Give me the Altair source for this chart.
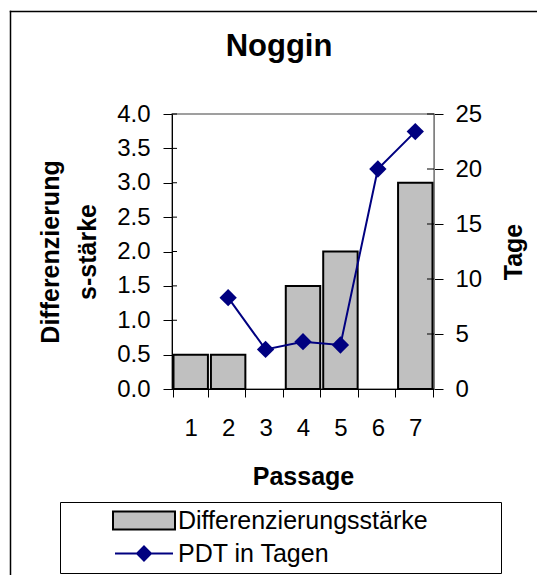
import altair as alt
import pandas as pd

# ---- data ----
passage = [1, 2, 3, 4, 5, 6, 7]
diff_strength = [0.5, 0.5, 0.0, 1.5, 2.0, 0.0, 3.0]
pdt_passage = [2, 3, 4, 5, 6, 7]
pdt_days = [8.3, 3.6, 4.3, 4.0, 20.0, 23.4]

left_ticks = [0, 0.5, 1, 1.5, 2, 2.5, 3, 3.5, 4]
right_ticks = [0, 5, 10, 15, 20, 25]

series_bar = "Differenzierungsstärke"
series_line = "PDT in Tagen"

FONT = "Liberation Sans"
NAVY = "#000080"
GRAY = "#C0C0C0"

bar_df = pd.DataFrame({"p": passage, "v": diff_strength, "series": series_bar})
line_df = pd.DataFrame({"p": pdt_passage, "t": pdt_days})
left_tick_df = pd.DataFrame({"lv": left_ticks})
right_tick_df = pd.DataFrame({"rv": right_ticks})
frame_df = pd.DataFrame({"k": [0]})

x_scale = alt.Scale(domain=passage, paddingInner=0.08, paddingOuter=0.04)
left_scale = alt.Scale(domain=[0, 4], nice=False)
right_scale = alt.Scale(domain=[0, 25], nice=False)

bar_path = "M-3.1,-0.9H3.1V0.9H-3.1ZM34.7,0"
line_path = "M-2.9,0H2.9M0,-0.7L0.7,0L0,0.7L-0.7,0ZM34.7,0"
is_line = f"datum.value === '{series_line}'"

legend = alt.Legend(
    orient="none", legendX=-112, legendY=388, title=None, direction="vertical",
    fillColor="white", strokeColor="black", padding=6,
    symbolSize=400, symbolStrokeWidth=2, symbolOffset=65.5, labelOffset=21.5,
    labelFont=FONT, labelFontSize=25, labelColor="black", labelLimit=400,
    rowPadding=7,
    symbolType=alt.ExprRef(expr=f"{is_line} ? '{line_path}' : '{bar_path}'"),
    symbolStrokeColor=alt.ExprRef(expr=f"{is_line} ? '{NAVY}' : 'black'"),
)

# outer chart frame (left and top edges; the others run past the picture)
frame_left = alt.Chart(frame_df).mark_rule(stroke="black", strokeWidth=1.5).encode(
    x=alt.value(-161.5), y=alt.value(-103.25), y2=alt.value(480)
)
frame_top = alt.Chart(frame_df).mark_rule(stroke="black", strokeWidth=1.5).encode(
    x=alt.value(-162.25), x2=alt.value(480), y=alt.value(-102.5)
)

bars = alt.Chart(bar_df).transform_filter("datum.v > 0").mark_bar(
    stroke="black", strokeWidth=2
).encode(
    x=alt.X("p:O", scale=x_scale, sort=passage,
            axis=alt.Axis(title="Passage", labelAngle=0, tickBand="extent", tickSize=8,
                          labelPadding=19, titlePadding=24, labelFontSize=24,
                          titleFontSize=25, titleFontWeight="bold")),
    y=alt.Y("v:Q", scale=left_scale,
            axis=alt.Axis(orient="left", values=left_ticks, format=".1f",
                          title=["Differenzierung", "s-stärke"], titleLineHeight=37,
                          tickSize=9, labelPadding=13, titlePadding=16,
                          labelFontSize=24, titleFontSize=25, titleFontWeight="bold")),
    fill=alt.Fill("series:N", scale=alt.Scale(domain=[series_bar, series_line],
                                              range=[GRAY, NAVY]), legend=legend),
)

line = alt.Chart(line_df).mark_line(
    color=NAVY, strokeWidth=2,
    point=alt.OverlayMarkDef(shape="diamond", size=300, filled=True, color=NAVY),
).encode(
    x=alt.X("p:O", scale=x_scale, sort=passage),
    y=alt.Y("t:Q", scale=right_scale,
            axis=alt.Axis(orient="right", values=right_ticks, format="d", title="Tage",
                          titleAngle=270, titleBaseline="top", tickSize=9, labelPadding=12,
                          titlePadding=20, labelFontSize=24, titleFontSize=25,
                          titleFontWeight="bold", domainColor="#808080")),
)

# inner halves of the tick marks (Excel ticks cross the axis line)
left_stubs = alt.Chart(left_tick_df).mark_rule(color="black", strokeWidth=1).encode(
    y=alt.Y("lv:Q", scale=left_scale, axis=None), x=alt.value(0), x2=alt.value(5)
)
right_stubs = alt.Chart(right_tick_df).mark_rule(color="black", strokeWidth=1).encode(
    y=alt.Y("rv:Q", scale=right_scale, axis=None), x=alt.value(255), x2=alt.value(262)
)

chart = alt.layer(
    frame_left, frame_top, bars, line, left_stubs, right_stubs
).resolve_scale(y="independent").properties(
    width=262, height=275,
    autosize=alt.AutoSizeParams(type="none"),
    padding={"left": 164, "top": 106, "right": 103, "bottom": 186},
    title=alt.TitleParams("Noggin", font=FONT, fontSize=31, fontWeight="bold",
                          anchor="middle", dx=-24, offset=-84, baseline="bottom",
                          color="black"),
).configure_view(stroke="#808080", strokeWidth=1.5).configure_axis(
    labelFont=FONT, titleFont=FONT, labelColor="black", titleColor="black",
    tickColor="black", domainColor="black", grid=False, labelFlush=False,
    labelOverlap=False
)

chart.save("out.html", embed_options={"renderer": "svg", "actions": False})
